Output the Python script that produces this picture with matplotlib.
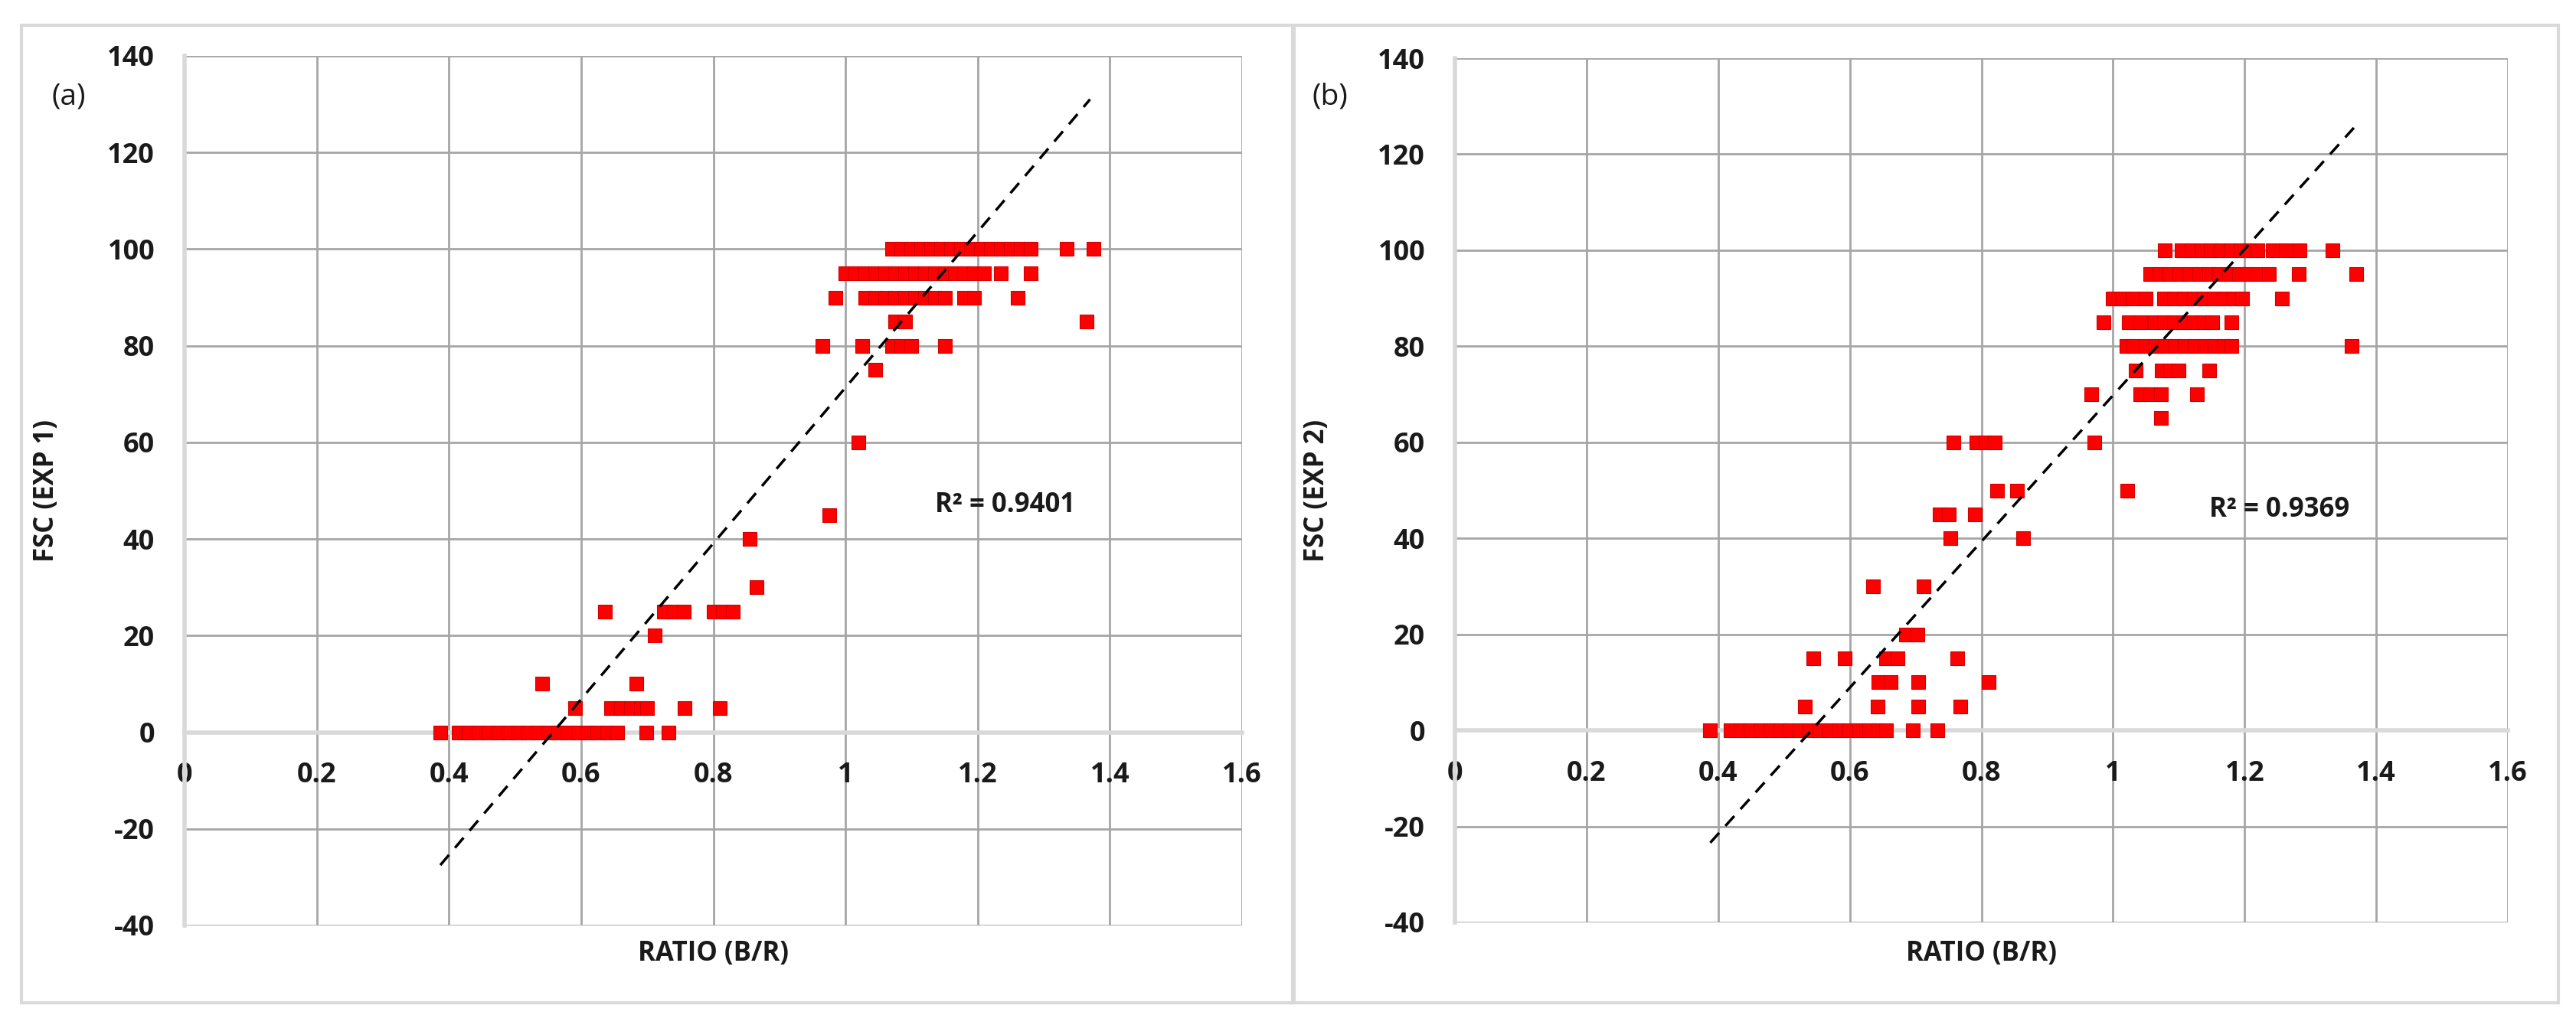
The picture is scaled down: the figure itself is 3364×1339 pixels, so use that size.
import numpy as np
import matplotlib
matplotlib.use('Agg')
import matplotlib.pyplot as plt
from matplotlib.patches import Rectangle

plt.rcParams['font.family'] = ['Open Sans', 'DejaVu Sans']
plt.rcParams['font.weight'] = 'bold'
plt.rcParams['axes.unicode_minus'] = False

# ---- panel (a): FSC (EXP 1) vs ratio ----
ratio_a = [
    0.387, 0.415, 0.43, 0.445, 0.46, 0.475, 0.49, 0.505, 0.52, 0.535, 0.55, 0.565,
    0.58, 0.595, 0.61, 0.625, 0.64, 0.655, 0.699, 0.732,
    0.591, 0.645, 0.66, 0.675, 0.69, 0.70, 0.757, 0.81,
    0.541, 0.684,
    0.711,
    0.636, 0.725, 0.74, 0.755, 0.80, 0.815, 0.83,
    0.865,
    0.855,
    0.975,
    1.02,
    1.045,
    0.965, 1.025, 1.07, 1.085, 1.10, 1.15,
    1.075, 1.09, 1.365,
    0.985, 1.03, 1.045, 1.06, 1.075, 1.09, 1.105, 1.12, 1.135, 1.15, 1.18, 1.195, 1.26,
    1.0, 1.015, 1.03, 1.045, 1.06, 1.075, 1.09, 1.105, 1.12, 1.135, 1.15, 1.165, 1.18,
    1.195, 1.21, 1.235, 1.28,
    1.07, 1.085, 1.10, 1.115, 1.13, 1.145, 1.16, 1.175, 1.19, 1.205, 1.22, 1.235,
    1.25, 1.265, 1.28, 1.335, 1.375,
]
fsc_a = (
    [0] * 20 + [5] * 8 + [10] * 2 + [20] + [25] * 7 + [30] + [40] + [45] + [60] + [75]
    + [80] * 6 + [85] * 3 + [90] * 13 + [95] * 17 + [100] * 17
)

# ---- panel (b): FSC (EXP 2) vs ratio ----
ratio_b = [
    0.388, 0.419, 0.434, 0.449, 0.464, 0.479, 0.494, 0.509, 0.524, 0.539, 0.554, 0.569,
    0.584, 0.599, 0.614, 0.629, 0.644, 0.655, 0.696, 0.733,
    0.532, 0.642, 0.704, 0.768,
    0.644, 0.662, 0.704, 0.811,
    0.545, 0.592, 0.655, 0.673, 0.763,
    0.685, 0.703,
    0.635, 0.712,
    0.753, 0.863,
    0.736, 0.750, 0.79,
    0.824, 0.854, 1.022,
    0.757, 0.792, 0.806, 0.82, 0.972,
    1.073,
    0.967, 1.041, 1.057, 1.073, 1.127,
    1.034, 1.074, 1.087, 1.10, 1.146,
    1.021, 1.031, 1.05, 1.065, 1.079, 1.094, 1.109, 1.124, 1.139, 1.154, 1.168, 1.18, 1.363,
    0.986, 1.024, 1.041, 1.063, 1.078, 1.093, 1.108, 1.123, 1.138, 1.151, 1.18,
    0.999, 1.015, 1.03, 1.05, 1.078, 1.093, 1.108, 1.123, 1.138, 1.153, 1.168, 1.183, 1.196, 1.257,
    1.056, 1.071, 1.086, 1.101, 1.116, 1.131, 1.146, 1.161, 1.176, 1.191, 1.206, 1.221, 1.237,
    1.282, 1.37,
    1.079, 1.104, 1.119, 1.134, 1.149, 1.164, 1.179, 1.194, 1.209, 1.22, 1.243, 1.263, 1.283, 1.333,
]
fsc_b = (
    [0] * 20 + [5] * 4 + [10] * 4 + [15] * 5 + [20] * 2 + [30] * 2 + [40] * 2 + [45] * 3
    + [50] * 3 + [60] * 5 + [65] + [70] * 5 + [75] * 5 + [80] * 13 + [85] * 11
    + [90] * 14 + [95] * 15 + [100] * 14
)

# linear trendline end points
trend_x_a = [0.387, 1.37]
trend_y_a = [-27.5, 131]
trend_x_b = [0.388, 1.366]
trend_y_b = [-23.4, 125.5]

r2_a = 'R² = 0.9401'
r2_b = 'R² = 0.9369'

x_ticks = [0, 0.2, 0.4, 0.6, 0.8, 1.0, 1.2, 1.4, 1.6]
x_tick_labels = ['0', '0.2', '0.4', '0.6', '0.8', '1', '1.2', '1.4', '1.6']
y_ticks = [-40, -20, 0, 20, 40, 60, 80, 100, 120, 140]

GRID = '#a6a6a6'
AXIS = '#d9d9d9'
RED = '#ff0000'
TXT = '#1a1a1a'

fig = plt.figure(figsize=(16.82, 6.695), dpi=200)
W, H = 3364, 1339

# light frames around each sub-chart
for x0, x1 in [(28, 1688), (1690, 3341)]:
    fig.patches.append(Rectangle((x0 / W, 1 - 1310 / H), (x1 - x0) / W, (1310 - 33) / H,
                                 transform=fig.transFigure, fill=False,
                                 edgecolor=AXIS, linewidth=1.5))


def draw_panel(rect, ratio, fsc, tx, ty, r2, r2_pos, ylabel, tag, tag_pos):
    ax = fig.add_axes(rect)
    ax.set_xlim(0, 1.6)
    ax.set_ylim(-40, 140)
    ax.tick_params(length=0, labelsize=13, pad=14, labelcolor=TXT)
    ax.set_xticks(x_ticks)
    ax.set_xticklabels(x_tick_labels, fontweight='bold')
    ax.set_yticks(y_ticks)
    ax.set_yticklabels([str(v) for v in y_ticks], fontweight='bold')
    ax.grid(True, color=GRID, linewidth=1.0)
    ax.set_axisbelow(True)
    for s in ['top', 'right']:
        ax.spines[s].set_visible(False)
    ax.spines['bottom'].set_position(('data', 0))
    ax.spines['bottom'].set_color(AXIS)
    ax.spines['bottom'].set_linewidth(2.0)
    ax.spines['left'].set_color(AXIS)
    ax.spines['left'].set_linewidth(2.0)

    ax.plot(ratio, fsc, 's', color=RED, markersize=6.8,
            markeredgecolor='#d40000', markeredgewidth=0.4, zorder=3)
    ax.plot(tx, ty, color='black', linestyle=(0, (5, 3.5)), linewidth=1.25, zorder=4)
    ax.text(r2_pos[0], r2_pos[1], r2, fontsize=12.5, fontweight='bold',
            color=TXT, va='center', ha='left', zorder=5)

    ax.set_ylabel(ylabel, fontsize=12.5, fontweight='bold', color=TXT, labelpad=22)
    fig.text(rect[0] + rect[2] / 2, 1 - 1246 / H, 'RATIO (B/R)', fontsize=12.5,
             fontweight='bold', color=TXT, ha='center', va='center')
    fig.text(tag_pos[0] / W, 1 - tag_pos[1] / H, tag, fontsize=14, fontweight='normal',
             color=TXT, ha='center', va='center')
    return ax


draw_panel([241 / W, 1 - 1209 / H, (1622 - 241) / W, (1209 - 73) / H],
           ratio_a, fsc_a, trend_x_a, trend_y_a, r2_a, (1.135, 47),
           'FSC (EXP 1)', '(a)', (90, 127))
draw_panel([1900 / W, 1 - 1205 / H, (3275 - 1900) / W, (1205 - 76) / H],
           ratio_b, fsc_b, trend_x_b, trend_y_b, r2_b, (1.146, 46),
           'FSC (EXP 2)', '(b)', (1737, 127))

fig.savefig('out.png', dpi=200, facecolor='white')
